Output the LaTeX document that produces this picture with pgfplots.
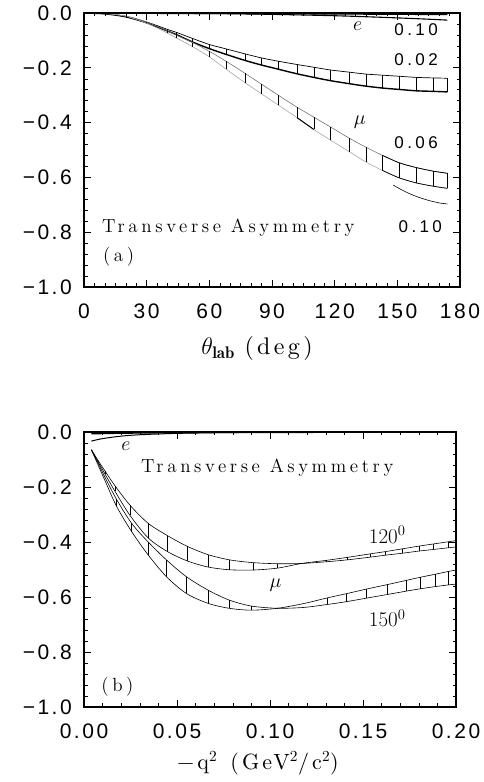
\RequirePackage{fix-cm}
\documentclass[border=0pt]{standalone}
\usepackage{bm}
\usepackage{fontspec}
\usepackage{pgfplots}
\usepackage{pgfplotstable}
\pgfplotsset{compat=1.18}
\newfontfamily\tickfont[LetterSpace=12]{Liberation Sans}
\newfontfamily\numfont[LetterSpace=20]{Liberation Sans}
\newfontfamily\annfont[LetterSpace=19]{lmroman12-regular.otf}
\newfontfamily\axfont[LetterSpace=14]{lmroman10-regular.otf}

% ---------- top panel data (deg, upper, lower) ----------
\pgfplotstableread{
x up lo
0 0 0
10 -0.003 -0.003
20 -0.013 -0.014
30 -0.033 -0.036
40 -0.060 -0.066
44 -0.070 -0.078
52 -0.093 -0.106
60 -0.115 -0.130
68 -0.131 -0.151
77 -0.149 -0.173
85 -0.164 -0.190
93 -0.176 -0.205
102 -0.188 -0.222
110 -0.198 -0.235
118 -0.208 -0.247
127 -0.216 -0.258
135 -0.223 -0.267
143 -0.227 -0.274
151 -0.231 -0.279
159 -0.235 -0.284
167 -0.237 -0.286
174 -0.238 -0.288
}\bandA
\pgfplotstableread{
x up lo
0 0 0
10 -0.002 -0.002
20 -0.011 -0.012
30 -0.033 -0.037
40 -0.066 -0.074
44 -0.080 -0.090
52 -0.108 -0.123
60 -0.140 -0.160
68 -0.176 -0.205
77 -0.220 -0.254
85 -0.260 -0.295
93 -0.300 -0.336
102 -0.344 -0.382
110 -0.380 -0.425
118 -0.416 -0.464
127 -0.457 -0.506
135 -0.490 -0.544
143 -0.520 -0.575
151 -0.547 -0.602
159 -0.564 -0.620
167 -0.577 -0.632
174 -0.585 -0.640
}\bandB
\pgfplotstableread{
x y
148 -0.628
152 -0.645
156 -0.660
160 -0.672
165 -0.684
170 -0.693
174 -0.697
}\curveC
\pgfplotstableread{
x y
0 0
60 -0.002
90 -0.005
120 -0.010
140 -0.015
160 -0.021
174 -0.026
}\eA
\pgfplotstableread{
x y
0 0
90 -0.002
174 -0.005
}\eB

% ---------- bottom panel data ----------
\pgfplotstableread{
x A B
0.004 -0.065 -0.065
0.0077 -0.105 -0.110
0.0113 -0.142 -0.153
0.0166 -0.195 -0.215
0.0247 -0.266 -0.303
0.0345 -0.332 -0.385
0.0449 -0.377 -0.435
0.0556 -0.416 -0.469
0.0667 -0.446 -0.491
0.0783 -0.465 -0.501
0.0908 -0.475 -0.502
0.104 -0.479 -0.495
0.117 -0.478 -0.478
0.130 -0.472 -0.467
0.1415 -0.465 -0.456
0.154 -0.455 -0.443
0.162 -0.448 -0.435
0.171 -0.441 -0.425
0.180 -0.433 -0.415
0.188 -0.427 -0.407
0.196 -0.421 -0.399
0.200 -0.418 -0.395
}\bandP
\pgfplotstableread{
x lo hi
0.0077 -0.110 -0.105
0.0113 -0.153 -0.142
0.0166 -0.215 -0.195
0.0247 -0.303 -0.266
0.0345 -0.385 -0.332
0.0449 -0.435 -0.377
0.0556 -0.469 -0.416
0.0667 -0.491 -0.446
0.0783 -0.501 -0.465
0.0908 -0.502 -0.475
0.104 -0.495 -0.479
0.130 -0.472 -0.467
0.1415 -0.465 -0.456
0.154 -0.455 -0.443
0.162 -0.448 -0.435
0.171 -0.441 -0.425
0.180 -0.433 -0.415
0.188 -0.427 -0.407
0.196 -0.421 -0.399
}\hatchP
\pgfplotstableread{
x C D
0.004 -0.065 -0.065
0.0077 -0.115 -0.122
0.0113 -0.165 -0.177
0.0175 -0.245 -0.270
0.0256 -0.332 -0.362
0.0345 -0.400 -0.447
0.0443 -0.465 -0.526
0.055 -0.526 -0.587
0.0667 -0.575 -0.623
0.078 -0.611 -0.641
0.090 -0.633 -0.648
0.104 -0.641 -0.641
0.118 -0.638 -0.624
0.131 -0.627 -0.603
0.141 -0.617 -0.588
0.152 -0.604 -0.571
0.163 -0.591 -0.555
0.173 -0.579 -0.540
0.181 -0.570 -0.528
0.189 -0.562 -0.517
0.196 -0.556 -0.507
0.200 -0.553 -0.502
}\bandQ
\pgfplotstableread{
x lo hi
0.0175 -0.270 -0.245
0.0256 -0.362 -0.332
0.0345 -0.447 -0.400
0.0443 -0.526 -0.465
0.055 -0.587 -0.526
0.0667 -0.623 -0.575
0.078 -0.641 -0.611
0.090 -0.648 -0.633
0.131 -0.627 -0.603
0.141 -0.617 -0.588
0.152 -0.604 -0.571
0.163 -0.591 -0.555
0.173 -0.579 -0.540
0.181 -0.570 -0.528
0.189 -0.562 -0.517
0.196 -0.556 -0.507
}\hatchQ
\pgfplotstableread{
x y
0.004 -0.033
0.010 -0.024
0.020 -0.015
0.030 -0.010
0.050 -0.005
0.080 -0.002
0.120 -0.001
0.200 0
}\eP
\pgfplotstableread{
x y
0.004 -0.006
0.020 -0.004
0.050 -0.002
0.100 -0.001
0.200 0
}\eQ

\pgfplotsset{
  myax/.style={
    scale only axis, clip=false,
    axis line style={line width=1.1pt},
    tick align=inside,
    major tick length=7pt, minor tick length=3.5pt,
    every tick/.style={black, line width=0.6pt},
    every minor tick/.style={black, line width=0.5pt},
    ticklabel style={font=\tickfont\fontsize{21}{24}\selectfont},
    ymin=-1, ymax=0,
    ytick={-1,-0.8,-0.6,-0.4,-0.2,0},
    yticklabels={−1.0,−0.8,−0.6,−0.4,−0.2,0.0},
    minor y tick num=4,
    yticklabel style={anchor=east, inner sep=0pt, xshift=-12pt},
    xticklabel style={anchor=center, inner sep=0pt, yshift=-24.5pt},
  },
  hatch/.style={draw=none, forget plot,
    error bars/.cd, y dir=plus, y explicit, error mark=none,
    error bar style={draw=black, line width=0.5pt}},
  band/.style={black, line width=0.7pt, smooth, tension=0.5},
}

\begin{document}
\begin{tikzpicture}
\path[use as bounding box] (0pt,0pt) rectangle (483pt,782pt);

% ================= (a) =================
\begin{axis}[myax, at={(84pt,495pt)}, anchor=south west,
  width=376pt, height=274pt,
  xmin=0, xmax=180,
  xtick={0,30,60,90,120,150,180},
  xticklabels={0,30,60,90,120,150,180},
  minor x tick num=5,
]
% 0.02 band
\addplot[band] table[x=x,y=up] {\bandA};
\addplot[band, line width=1.4pt] table[x=x,y=lo] {\bandA};
\addplot[hatch] table[x=x, y=lo, y error expr=\thisrow{up}-\thisrow{lo}] {\bandA};
% 0.06 band
\addplot[band, black!55, line width=0.6pt] table[x=x,y=up] {\bandB};
\addplot[band, black!35, line width=0.6pt] table[x=x,y=lo] {\bandB};
\addplot[band, restrict x to domain=140:180] table[x=x,y=up] {\bandB};
\addplot[band, restrict x to domain=140:180] table[x=x,y=lo] {\bandB};
\addplot[band, line width=1pt, restrict x to domain=100:111] table[x=x,y=lo] {\bandB};
\addplot[hatch] table[x=x, y=lo, y error expr=\thisrow{up}-\thisrow{lo}] {\bandB};
% 0.10 curve
\addplot[band, line width=0.6pt] table[x=x,y=y] {\curveC};
% e curves
\addplot[band, line width=1.1pt] table[x=x,y=y] {\eA};
\addplot[band, line width=1.6pt] table[x=x,y=y] {\eB};

\node[font=\fontsize{20}{22}\selectfont] at (axis cs:131,-0.05) {$e$};
\node[font=\numfont\fontsize{17}{19}\selectfont] at (axis cs:159,-0.062) {0.10};
\node[font=\numfont\fontsize{17}{19}\selectfont] at (axis cs:159,-0.17) {0.02};
\node[font=\fontsize{20}{22}\selectfont] at (axis cs:132,-0.40) {$\mu$};
\node[font=\numfont\fontsize{17}{19}\selectfont] at (axis cs:159,-0.475) {0.06};
\node[font=\numfont\fontsize{17}{19}\selectfont] at (axis cs:161,-0.78) {0.10};
\node[font=\annfont\fontsize{19}{21}\selectfont, anchor=west, inner sep=0pt] at (axis cs:8.6,-0.785) {Transverse Asymmetry};
\node[font=\annfont\fontsize{19}{21}\selectfont, anchor=west, inner sep=0pt] at (axis cs:9,-0.89) {(a)};
\end{axis}
\node[font=\axfont\fontsize{24}{26}\selectfont] at (257pt,433pt) {$\theta_{\mathbf{lab}}$\hspace{0.4em}(deg)};

% ================= (b) =================
\begin{axis}[myax, at={(84pt,75pt)}, anchor=south west,
  width=372pt, height=275pt,
  xmin=0, xmax=0.2,
  xtick={0,0.05,0.1,0.15,0.2},
  xticklabels={0.00,0.05,0.10,0.15,0.20},
  minor x tick num=4,
]
\addplot[band, line width=0.6pt] table[x=x,y=A] {\bandP};
\addplot[band, line width=0.6pt] table[x=x,y=B] {\bandP};
\addplot[hatch] table[x=x, y=lo, y error expr=\thisrow{hi}-\thisrow{lo}] {\hatchP};
\addplot[band, line width=0.6pt] table[x=x,y=C] {\bandQ};
\addplot[band, line width=0.6pt] table[x=x,y=D] {\bandQ};
\addplot[hatch] table[x=x, y=lo, y error expr=\thisrow{hi}-\thisrow{lo}] {\hatchQ};
\addplot[band, line width=1pt] table[x=x,y=y] {\eP};
\addplot[band, line width=1.6pt] table[x=x,y=y] {\eQ};

\node[font=\fontsize{20}{22}\selectfont] at (axis cs:0.0225,-0.053) {$e$};
\node[font=\annfont\fontsize{19}{21}\selectfont] at (axis cs:0.0985,-0.131) {Transverse Asymmetry};
\node[font=\fontsize{21}{24}\selectfont] at (axis cs:0.163,-0.375) {120$^{0}$};
\node[font=\fontsize{20}{22}\selectfont] at (axis cs:0.103,-0.556) {$\mu$};
\node[font=\fontsize{21}{24}\selectfont] at (axis cs:0.163,-0.678) {150$^{0}$};
\node[font=\annfont\fontsize{19}{21}\selectfont] at (axis cs:0.018,-0.926) {(b)};
\end{axis}
\node[font=\axfont\fontsize{22}{24}\selectfont] at (258pt,19pt) {−q\textsuperscript{2}\hspace{0.6em}(GeV\textsuperscript{2}/c\textsuperscript{2})};
\end{tikzpicture}
\end{document}
